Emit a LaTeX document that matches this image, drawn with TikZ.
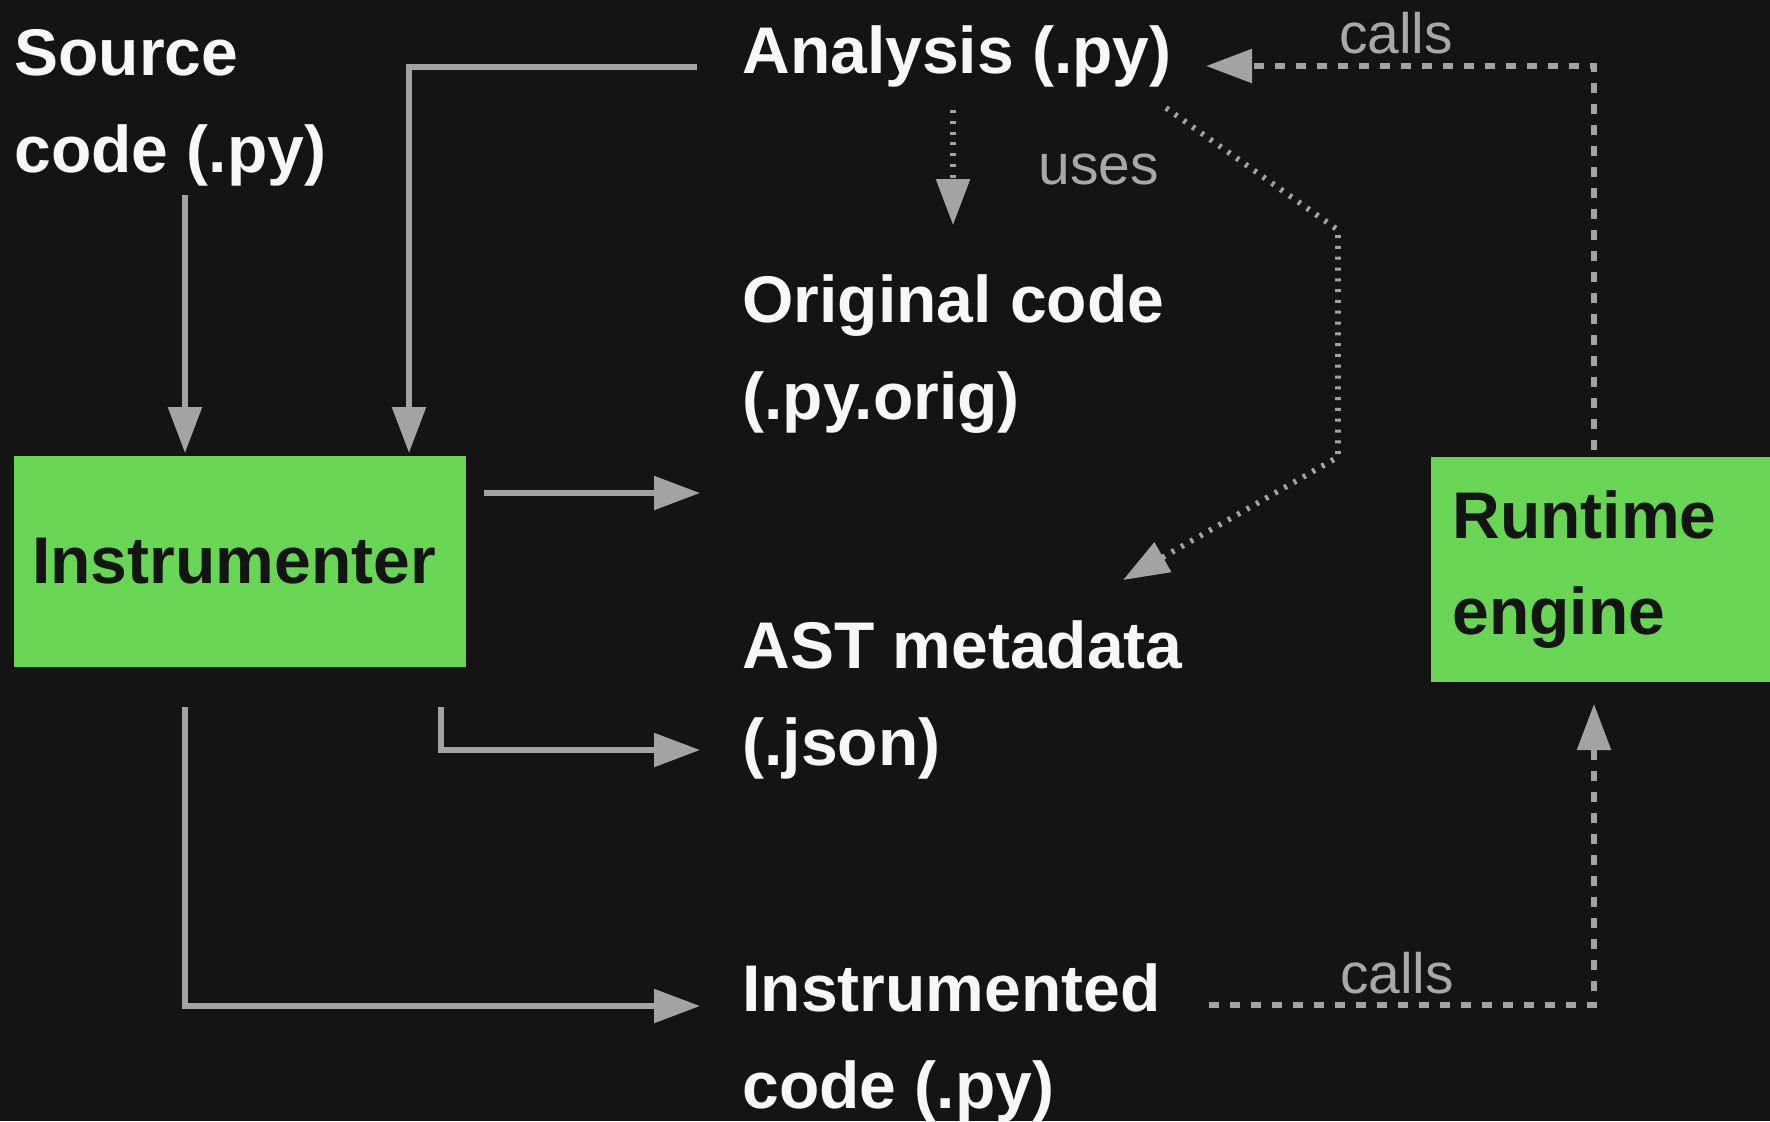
\documentclass[tikz,border=0pt]{standalone}
\usepackage{fontspec}
\setmainfont{Liberation Sans}
\usetikzlibrary{arrows.meta}
\definecolor{bgdark}{HTML}{141414}
\definecolor{boxgreen}{HTML}{68D654}
\definecolor{linegray}{HTML}{A3A3A3}
\definecolor{labelgray}{HTML}{A8A8A8}
\definecolor{textwhite}{HTML}{F7F7F7}
\begin{document}
\begin{tikzpicture}[x=0.5pt,y=-0.5pt,
  title/.style={inner sep=0pt, anchor=base west, text=textwhite, align=left,
    font=\fontsize{33}{48.5}\selectfont\bfseries},
  edgelabel/.style={inner sep=0pt, anchor=base, text=labelgray,
    font=\fontsize{28.5}{34}\selectfont},
  greenbox/.style={fill=boxgreen, text=bgdark, inner sep=0pt,
    font=\fontsize{33}{48}\selectfont\bfseries},
  flow/.style={draw=linegray, line width=2.75pt,
    -{Triangle[length=23pt,width=16.5pt]}},
  callsline/.style={flow, dash pattern=on 5pt off 5.5pt},
  usesline/.style={flow, line width=2.8pt, dash pattern=on 1.5pt off 3.9pt}
]
% canvas
\fill[bgdark] (0,0) rectangle (1770,1121);
\useasboundingbox (0,0) rectangle (1770,1121);
\clip (0,0) rectangle (1770,1121);

% artefacts (base anchor sits on the last line)
\node[title] (src)   at (14,172)   {Source\\code (.py)};
\node[title] (ana)   at (742,73)   {Analysis (.py)};
\node[title] (orig)  at (742,419)  {Original code\\(.py.orig)};
\node[title] (ast)   at (742,765)  {AST metadata\\(.json)};
\node[title] (instd) at (742,1108) {Instrumented\\code (.py)};

% tools
\node[greenbox, minimum width=226pt, minimum height=105.5pt] (instr)
  at (240,561.5) {\hspace*{-6pt}Instrumenter};
\node[greenbox, anchor=north west, minimum width=180pt, minimum height=112.5pt,
  text width=161pt, inner xsep=10.5pt, align=left] (rt)
  at (1431,457) {Runtime\\engine};

% connector end points
\coordinate (srcOut)    at (185,195);
\coordinate (instrInL)  at (185,453);
\coordinate (anaOut)    at (697,67);
\coordinate (instrInR)  at (409,453);
\coordinate (instrOutA) at (484,493);
\coordinate (origIn)    at (700,493);
\coordinate (instrOutB) at (441,707);
\coordinate (astIn)     at (700,750);
\coordinate (instrOutC) at (185,707);
\coordinate (instdIn)   at (700,1006);
\coordinate (anaDown)   at (953,110);
\coordinate (origTop)   at (953,225);
\coordinate (anaSide)   at (1166,108);
\coordinate (bendA)     at (1338,230);
\coordinate (bendB)     at (1338,457);
\coordinate (astTop)    at (1123,580);
\coordinate (rtTop)     at (1594,450);
\coordinate (anaIn)     at (1206,66);
\coordinate (instdOut)  at (1209,1005);
\coordinate (rtBottom)  at (1594,704);

% instrumentation flow
\draw[flow] (srcOut) -- (instrInL);
\draw[flow] (anaOut) -| (instrInR);
\draw[flow] (instrOutA) -- (origIn);
\draw[flow] (instrOutB) |- (astIn);
\draw[flow] (instrOutC) |- (instdIn);

% analysis uses the original code and the metadata
\draw[usesline] (anaDown) -- (origTop);
\node[edgelabel, anchor=base west] (uses) at (1038,184) {uses};
\draw[usesline] (anaSide) -- (bendA) -- (bendB) -- (astTop);

% runtime calls
\draw[callsline] (rtTop) |- (anaIn);
\node[edgelabel] (callsTop) at (1396,53) {calls};
\draw[callsline] (instdOut) -| (rtBottom);
\node[edgelabel] (callsBot) at (1397,993) {calls};
\end{tikzpicture}
\end{document}
